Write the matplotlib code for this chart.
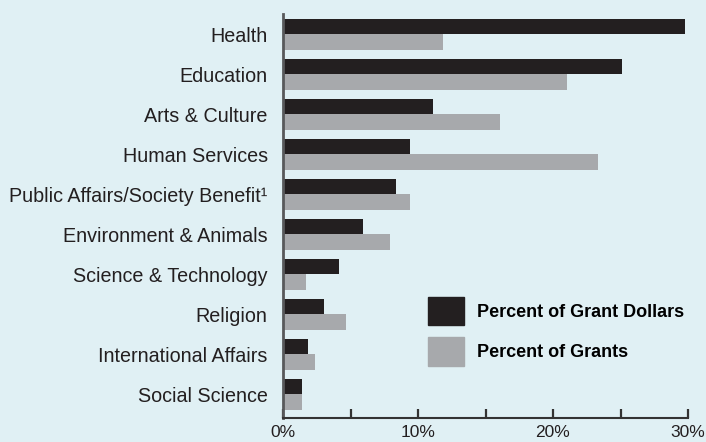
import numpy as np
import matplotlib
matplotlib.use("Agg")
import matplotlib.pyplot as plt
from matplotlib.patches import Patch

categories = [
    "Health",
    "Education",
    "Arts & Culture",
    "Human Services",
    "Public Affairs/Society Benefit\u00b9",
    "Environment & Animals",
    "Science & Technology",
    "Religion",
    "International Affairs",
    "Social Science",
]
grant_dollars = [29.8, 25.1, 11.1, 9.4, 8.4, 5.9, 4.15, 3.0, 1.85, 1.4]
grants = [11.85, 21.0, 16.1, 23.3, 9.4, 7.9, 1.7, 4.7, 2.4, 1.4]
xticks = [0, 5, 10, 15, 20, 25, 30]
xticklabels = ["0%", "", "10%", "", "20%", "", "30%"]

BG = "#E0F0F4"
DARK = "#231F20"
GRAY = "#A7A9AC"

plt.rcParams["font.family"] = ["Liberation Sans", "DejaVu Sans"]

W, H = 706, 442
fig = plt.figure(figsize=(W / 100, H / 100), dpi=100, facecolor=BG)
ax = fig.add_axes([283 / W, 1 - 418 / H, (688 - 283) / W, (418 - 14) / H])
ax.set_facecolor(BG)

y = np.arange(len(categories))
h = 0.39
ax.barh(y - h / 2, grant_dollars, height=h, color=DARK, label="Percent of Grant Dollars")
ax.barh(y + h / 2, grants, height=h, color=GRAY, label="Percent of Grants")

ax.set_ylim(len(categories) - 1 + 0.59, -0.51)
ax.set_xlim(0, 30)
ax.set_yticks(y)
ax.set_yticklabels(categories, fontsize=14.2, color="#231F20")
ax.tick_params(axis="y", length=0, pad=11)
ax.set_xticks(xticks)
ax.set_xticklabels(xticklabels, fontsize=12.5, color="#231F20")
ax.tick_params(axis="x", direction="in", length=6.5, width=1.6, color="#333333", pad=5)

for s in ("top", "right"):
    ax.spines[s].set_visible(False)
ax.spines["left"].set_color("#58595B")
ax.spines["left"].set_linewidth(2)
ax.spines["bottom"].set_color("#333333")
ax.spines["bottom"].set_linewidth(1.5)

handles = [Patch(color=DARK), Patch(color=GRAY)]
fig.legend(handles, ["Percent of Grant Dollars", "Percent of Grants"],
           loc="upper left", bbox_to_anchor=(428 / W, 1 - 297 / H),
           frameon=False, borderpad=0, borderaxespad=0,
           handlelength=2.0, handleheight=2.05, handletextpad=0.7,
           labelspacing=0.65, prop={"weight": "bold", "size": 13})

fig.savefig("out.png", dpi=100, facecolor=BG)
